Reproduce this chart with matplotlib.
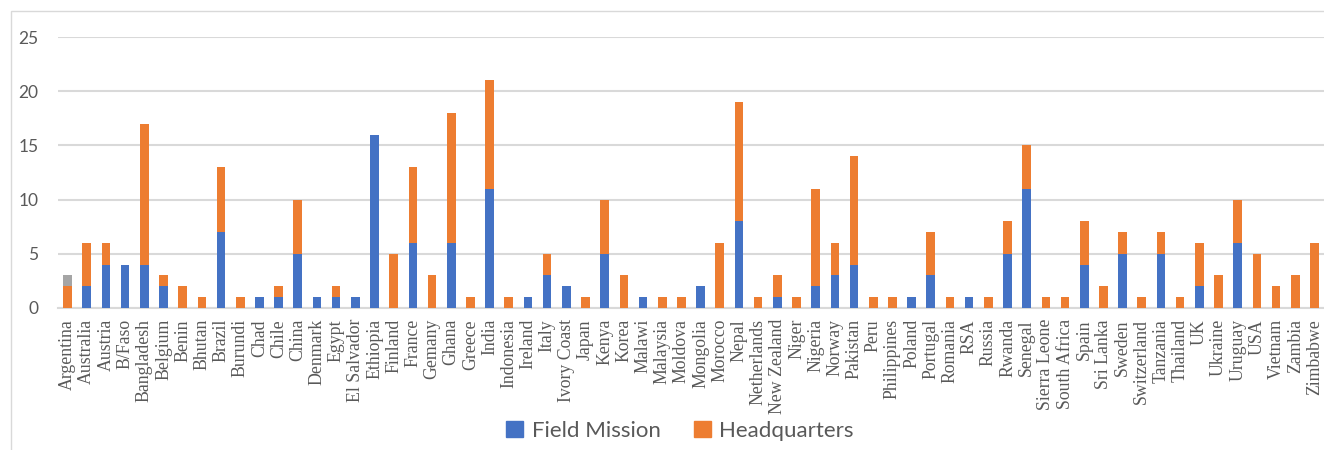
import matplotlib.pyplot as plt
import numpy as np
from matplotlib.patches import Rectangle, Patch

countries = ["Argentina", "Australia", "Austria", "B/Faso", "Bangladesh", "Belgium",
             "Benin", "Bhutan", "Brazil", "Burundi", "Chad", "Chile", "China", "Denmark",
             "Egypt", "El Salvador", "Ethiopia", "Finland", "France", "Gemany", "Ghana",
             "Greece", "India", "Indonesia", "Ireland", "Italy", "Ivory Coast", "Japan",
             "Kenya", "Korea", "Malawi", "Malaysia", "Moldova", "Mongolia", "Morocco",
             "Nepal", "Netherlands", "New Zealand", "Niger", "Nigeria", "Norway",
             "Pakistan", "Peru", "Philippines", "Poland", "Portugal", "Romania", "RSA",
             "Russia", "Rwanda", "Senegal", "Sierra Leone", "South Africa", "Spain",
             "Sri Lanka", "Sweden", "Switzerland", "Tanzania", "Thailand", "UK", "Ukraine",
             "Uruguay", "USA", "Vietnam", "Zambia", "Zimbabwe"]

field_mission = [0, 2, 4, 4, 4, 2, 0, 0, 7, 0, 1, 1, 5, 1, 1, 1, 16, 0, 6, 0, 6,
                 0, 11, 0, 1, 3, 2, 0, 5, 0, 1, 0, 0, 2, 0, 8, 0, 1, 0, 2, 3,
                 4, 0, 0, 1, 3, 0, 1, 0, 5, 11, 0, 0, 4, 0, 5, 0, 5, 0, 2, 0,
                 6, 0, 0, 0, 0]
headquarters = [2, 4, 2, 0, 13, 1, 2, 1, 6, 1, 0, 1, 5, 0, 1, 0, 0, 5, 7, 3, 12,
                1, 10, 1, 0, 2, 0, 1, 5, 3, 0, 1, 1, 0, 6, 11, 1, 2, 1, 9, 3,
                10, 1, 1, 0, 4, 1, 0, 1, 3, 4, 1, 1, 4, 2, 2, 1, 2, 1, 4, 3,
                4, 5, 2, 3, 6]
# third (unlabelled) series, only Argentina
other = [1] + [0] * 65

blue = "#4472C4"
orange = "#ED7D31"
grey = "#A5A5A5"
txt = "#595959"

fig = plt.figure(figsize=(13.24, 4.5), dpi=100)
ax = fig.add_axes([58/1324, 1 - 308/450, 1 - 58/1324, (308 - 37)/450])

x = np.arange(len(countries))
fm = np.array(field_mission)
hq = np.array(headquarters)
ax.bar(x, fm, width=0.45, color=blue, zorder=3)
ax.bar(x, hq, width=0.45, bottom=fm, color=orange, zorder=3)
ax.bar(x, other, width=0.45, bottom=fm + hq, color=grey, zorder=3)

ax.set_xlim(-0.5, len(countries) - 0.5)
ax.set_ylim(0, 25)
ax.set_yticks(range(0, 26, 5))
ax.grid(axis="y", color="#D9D9D9", linewidth=1.5, zorder=0)
for s in ["top", "right", "left"]:
    ax.spines[s].set_visible(False)
ax.spines["bottom"].set_color("#D9D9D9")
ax.spines["bottom"].set_linewidth(1.5)
ax.tick_params(length=0)
ax.tick_params(axis="y", labelsize=12.5, labelcolor=txt, pad=14)
for lab in ax.get_yticklabels():
    lab.set_family("Lato")
ax.set_xticks(x)
ax.set_xticklabels(countries, rotation=90, fontsize=12.8, family="Liberation Serif",
                   color=txt, va="top")
ax.tick_params(axis="x", pad=8)

# chart border
fig.patches.append(Rectangle((11/1324, -0.1), 1.2, 1 - 11/450 + 0.1,
                             transform=fig.transFigure, fill=False,
                             edgecolor="#D9D9D9", linewidth=1))

handles = [Patch(color=blue, label="Field Mission"), Patch(color=orange, label="Headquarters")]
fig.legend(handles=handles, loc="center", bbox_to_anchor=(680/1324, 1 - 431/450),
           ncol=2, frameon=False, handlelength=0.75, handleheight=0.75,
           columnspacing=1.5, handletextpad=0.4,
           prop={"family": "Lato", "size": 16}, labelcolor=txt)

fig.savefig("out.png", dpi=100)
